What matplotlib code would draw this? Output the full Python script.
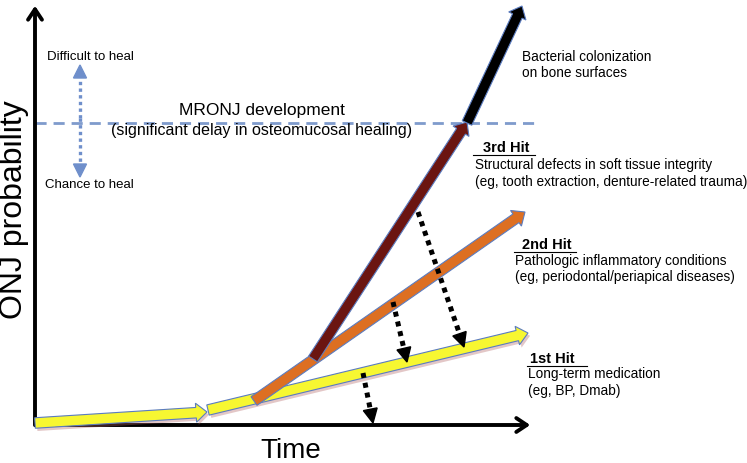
import numpy as np
import matplotlib
matplotlib.use("Agg")
import matplotlib.pyplot as plt
from matplotlib.patches import FancyArrow, Polygon
import matplotlib.patheffects as pe

plt.rcParams['font.family'] = ['Liberation Sans', 'DejaVu Sans']

# canvas is laid out in pixels of the 747x463 picture (y grows downward)
W, H = 747, 463

# the hit arrows: start and tip points
hit_names = ['base', '1st', '2nd', '3rd', 'colonization']
hit_start = [(35, 423), (208, 410), (254, 401), (313, 359), (467, 123)]
hit_end = [(207, 412), (528, 333), (525, 212), (467, 122), (522, 6)]
hit_colors = ['#f7f731', '#f7f731', '#dd6f22', '#6b1511', '#000000']

# dotted black arrows: from a hit down to the previous level
drop_start = [(363, 373), (393, 302), (418, 212)]
drop_end = [(373, 423), (407, 362), (464, 347)]

threshold_y = 123

hit_titles = ['3rd Hit', '2nd Hit', '1st Hit']
hit_lines = [
    ['Structural defects in soft tissue integrity', '(eg, tooth extraction, denture-related trauma)'],
    ['Pathologic inflammatory conditions', '(eg, periodontal/periapical diseases)'],
    ['Long-term medication', '(eg, BP, Dmab)'],
]
title_pos = [(483, 148), (522, 245), (530, 359)]
underline_x = [(473, 535), (514, 576), (527, 587)]
underline_y = [155, 252, 366]
desc_pos = [(475, 165, 182), (515, 261, 277), (528, 374, 391)]


def dotted_arrow(ax, start, end, color, lw, head_len, head_w, dash=(1, 1)):
    s = np.array(start, float)
    e = np.array(end, float)
    d = (e - s) / np.hypot(*(e - s))
    n = np.array([-d[1], d[0]])
    base = e - d * head_len
    ax.plot([s[0], base[0]], [s[1], base[1]], color=color, lw=lw,
            linestyle=(0, dash), solid_capstyle='butt', zorder=6)
    ax.add_patch(Polygon([e, base + n * head_w / 2, base - n * head_w / 2],
                         closed=True, color=color, zorder=6))


fig = plt.figure(figsize=(W / 100, H / 100), dpi=100)
ax = fig.add_axes([0, 0, 1, 1])
ax.set_xlim(0, W)
ax.set_ylim(H, 0)
ax.axis('off')

# axes arrows
ax.annotate('', xy=(35, 3), xytext=(35, 428),
            arrowprops=dict(arrowstyle='->,head_length=0.75,head_width=0.5', lw=2.8, color='k'))
ax.annotate('', xy=(533, 425), xytext=(33, 425),
            arrowprops=dict(arrowstyle='->,head_length=0.75,head_width=0.5', lw=2.8, color='k'))

ax.text(14, 210, 'ONJ probability', rotation=90, ha='center', va='center', fontsize=23)
ax.text(291, 451, 'Time', ha='center', va='center', fontsize=20)

# MRONJ threshold
ax.plot([35, 537], [threshold_y, threshold_y], color='#7f9bcc', lw=2,
        linestyle=(0, (4, 2.5)), zorder=2)
ax.text(262, 111, 'MRONJ development', ha='center', va='center', fontsize=12.5)
ax.text(262, 130, '(significant delay in osteomucosal healing)', ha='center', va='center', fontsize=11.5)

# heal / not heal double arrow
dotted_arrow(ax, (80, 118), (80, 65), '#6f8fcb', 2.4, 13, 13)
dotted_arrow(ax, (80, 118), (80, 177), '#6f8fcb', 2.4, 13, 13)
ax.text(47, 57, 'Difficult to heal', ha='left', va='center', fontsize=9.5)
ax.text(45, 185, 'Chance to heal', ha='left', va='center', fontsize=9.5)

# block arrows
shadow = [pe.SimplePatchShadow(offset=(1.5, -2), shadow_rgbFace='#b06060', alpha=0.35), pe.Normal()]
for (x0, y0), (x1, y1), c in zip(hit_start, hit_end, hit_colors):
    ar = FancyArrow(x0, y0, x1 - x0, y1 - y0, width=10.5, head_width=19, head_length=11,
                    length_includes_head=True, facecolor=c, edgecolor='#5b7cc0', lw=0.8, zorder=4)
    if c == '#f7f731':
        ar.set_path_effects(shadow)
    ax.add_patch(ar)

for s, e in zip(drop_start, drop_end):
    dotted_arrow(ax, s, e, 'k', 3.6, 14, 14)

ax.text(522, 57, 'Bacterial colonization', ha='left', va='center', fontsize=9.8)
ax.text(522, 73, 'on bone surfaces', ha='left', va='center', fontsize=9.8)

for t, (tx, ty), (ux0, ux1), uy, lines, (dx, dy1, dy2) in zip(
        hit_titles, title_pos, underline_x, underline_y, hit_lines, desc_pos):
    ax.text(tx, ty, t, ha='left', va='center', fontsize=10.5, fontweight='bold')
    ax.plot([ux0, ux1], [uy, uy], color='k', lw=0.8)
    ax.text(dx, dy1, lines[0], ha='left', va='center', fontsize=9.8)
    ax.text(dx, dy2, lines[1], ha='left', va='center', fontsize=9.8)

fig.savefig('out.png', dpi=100)
